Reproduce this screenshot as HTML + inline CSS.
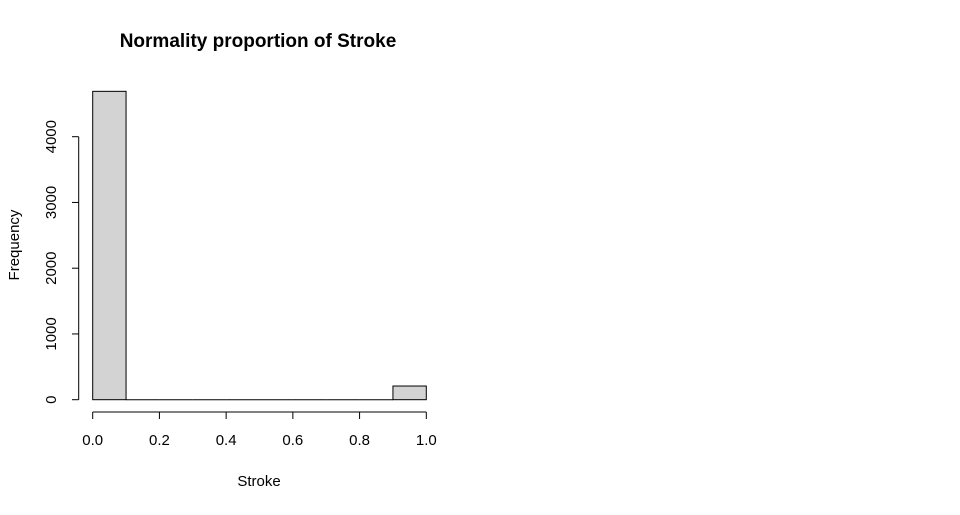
<!DOCTYPE html>
<html><head><meta charset="utf-8"><style>
body{margin:0;background:#fff;}
svg text{font-family:"Liberation Sans",Arial,sans-serif;fill:#000;}
</style></head><body>
<svg width="960" height="510" xmlns="http://www.w3.org/2000/svg">
<rect width="960" height="510" fill="#fff"/>
<text x="258" y="47" text-anchor="middle" font-size="19" font-weight="bold">Normality proportion of Stroke</text>
<g id="bars"></g>
<g id="xaxis"></g>
<g id="yaxis"></g>
<text x="259" y="486" text-anchor="middle" font-size="15">Stroke</text>
<text transform="translate(19,245) rotate(-90)" text-anchor="middle" font-size="15">Frequency</text>
</svg>
<script>
const binEdges=[0,0.1,0.2,0.3,0.4,0.5,0.6,0.7,0.8,0.9,1.0];
const counts=[4690,0,0,0,0,0,0,0,0,208];
const xTicks=[0,0.2,0.4,0.6,0.8,1.0];
const xTickLabels=["0.0","0.2","0.4","0.6","0.8","1.0"];
const yTicks=[0,1000,2000,3000,4000];
const NS="http://www.w3.org/2000/svg";
const x=v=>92.7+v*(426.3-92.7);
const y=v=>399.7-v*0.06575;
function mk(t,a,p){const e=document.createElementNS(NS,t);for(const k in a)e.setAttribute(k,a[k]);p.appendChild(e);return e;}
const bars=document.getElementById('bars');
counts.forEach((c,i)=>{
 const x0=x(binEdges[i]),x1=x(binEdges[i+1]);
 if(c>0){
  const r=mk('rect',{x:x0,y:y(c),width:x1-x0,height:y(0)-y(c),fill:'#d3d3d3',stroke:'#000','stroke-width':1},bars);
  
  
 } else {
  const l=mk('line',{x1:x0,x2:x1,y1:y(0),y2:y(0),stroke:'#000','stroke-width':1},bars);
  
  
 }
});
const xa=document.getElementById('xaxis');
mk('line',{x1:x(0),x2:x(1),y1:412,y2:412,stroke:'#000'},xa);
xTicks.forEach((t,i)=>{
 mk('line',{x1:x(t),x2:x(t),y1:412,y2:419,stroke:'#000'},xa);
 const tx=mk('text',{x:x(t),y:445,'text-anchor':'middle','font-size':15},xa);
 tx.textContent=xTickLabels[i];
 
 
});
const ya=document.getElementById('yaxis');
mk('line',{x1:78.7,x2:78.7,y1:y(0),y2:y(4000),stroke:'#000'},ya);
yTicks.forEach(t=>{
 mk('line',{x1:72,x2:78.7,y1:y(t),y2:y(t),stroke:'#000'},ya);
 const tx=mk('text',{transform:`translate(56,${y(t)}) rotate(-90)`,'text-anchor':'middle','font-size':15},ya);
 tx.textContent=String(t);
 
 
});
</script>
</body></html>
